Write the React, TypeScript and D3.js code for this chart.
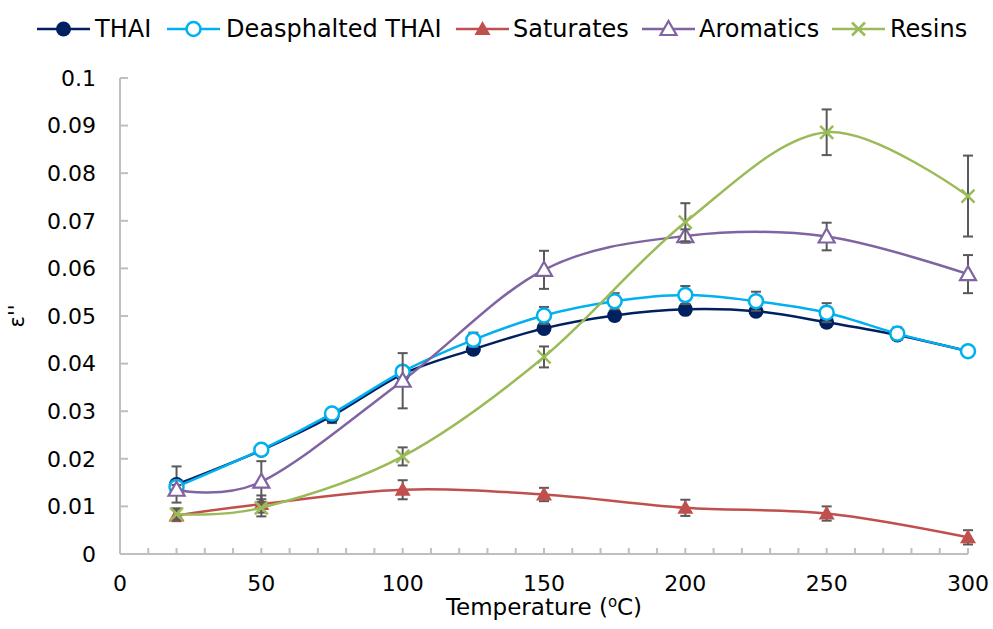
import React from "react";
import * as d3 from "d3";

const xThai = [20, 50, 75, 100, 125, 150, 175, 200, 225, 250, 275, 300];
const thai = [0.0146, 0.0218, 0.0290, 0.0378, 0.0430, 0.0474, 0.0501, 0.0514, 0.0510, 0.0487, 0.0460, 0.0426];
const thaiErr = [0.0038, 0.0010, 0.0015, 0.0010, 0.0010, 0.0010, 0.0010, 0.0010, 0.0010, 0.0010, 0.0010, 0.0005];
const deasph = [0.0141, 0.0219, 0.0295, 0.0383, 0.0450, 0.0501, 0.0531, 0.0544, 0.0531, 0.0507, 0.0463, 0.0426];
const deasphErr = [0.0010, 0.0010, 0.0008, 0.0010, 0.0015, 0.0018, 0.0017, 0.0019, 0.0020, 0.0020, 0.0013, 0.0005];

const xFrac = [20, 50, 100, 150, 200, 250, 300];
const saturates = [0.0081, 0.0105, 0.0135, 0.0125, 0.0097, 0.0085, 0.0035];
const saturatesErr = [0.0012, 0.0018, 0.0020, 0.0014, 0.0017, 0.0015, 0.0015];
const aromatics = [0.0135, 0.0152, 0.0364, 0.0597, 0.0668, 0.0667, 0.0588];
const aromaticsErr = [0.0010, 0.0043, 0.0058, 0.0040, 0.0014, 0.0029, 0.0040];
const resins = [0.0084, 0.0097, 0.0205, 0.0414, 0.0697, 0.0886, 0.0752];
const resinsErr = [0.0012, 0.0018, 0.0019, 0.0022, 0.0040, 0.0048, 0.0085];

const xTicks = [0, 50, 100, 150, 200, 250, 300];
const yTicks = [0, 0.01, 0.02, 0.03, 0.04, 0.05, 0.06, 0.07, 0.08, 0.09, 0.1];
const yTickLabels = ["0", "0.01", "0.02", "0.03", "0.04", "0.05", "0.06", "0.07", "0.08", "0.09", "0.1"];

const W = 993, H = 629;
const FONT = "Verdana, 'DejaVu Sans', sans-serif";
const ERR_COLOR = "#595959";

type Series = { name: string; xs: number[]; ys: number[]; err: number[]; color: string; marker: string };

const series: Series[] = [
  { name: "THAI", xs: xThai, ys: thai, err: thaiErr, color: "#002060", marker: "dot" },
  { name: "Deasphalted THAI", xs: xThai, ys: deasph, err: deasphErr, color: "#00b0f0", marker: "circle" },
  { name: "Saturates", xs: xFrac, ys: saturates, err: saturatesErr, color: "#c0504d", marker: "tri" },
  { name: "Aromatics", xs: xFrac, ys: aromatics, err: aromaticsErr, color: "#8064a2", marker: "otri" },
  { name: "Resins", xs: xFrac, ys: resins, err: resinsErr, color: "#9bbb59", marker: "x" },
];

function Marker({ type, color, cx, cy }: { type: string; color: string; cx: number; cy: number }) {
  if (type === "dot") return <circle cx={cx} cy={cy} r={7.5} fill={color} />;
  if (type === "circle") return <circle cx={cx} cy={cy} r={7} fill="#fff" stroke={color} strokeWidth={2.5} />;
  if (type === "tri" || type === "otri") {
    const s = 8;
    const p = `M${cx},${cy - s} L${cx + s},${cy + s * 0.75} L${cx - s},${cy + s * 0.75} Z`;
    return type === "tri" ? <path d={p} fill={color} /> : <path d={p} fill="#fff" stroke={color} strokeWidth={2.2} />;
  }
  const s = 6.5;
  return (
    <path d={`M${cx - s},${cy - s} L${cx + s},${cy + s} M${cx - s},${cy + s} L${cx + s},${cy - s}`} stroke={color} strokeWidth={2.5} fill="none" />
  );
}

export default function App() {
  const left = 120, right = 968, top = 78, bottom = 554;
  const x = d3.scaleLinear().domain([0, 300]).range([left, right]);
  const y = d3.scaleLinear().domain([0, 0.1]).range([bottom, top]);
  const minor = d3.range(0, 301, 10);
  const line = (s: Series) =>
    d3.line<number>().x((_, i) => x(s.xs[i])).y((v) => y(v)).curve(d3.curveCardinal.tension(0))(s.ys) || "";

  const legend = [
    { lx: 37, tx: 95 },
    { lx: 167, tx: 226 },
    { lx: 456, tx: 513 },
    { lx: 642, tx: 699 },
    { lx: 832, tx: 890 },
  ];

  return (
    <svg width={W} height={H} style={{ position: "absolute", left: 0, top: 0, background: "#fff" }} fontFamily={FONT}>
      <rect width={W} height={H} fill="#fff" />
      {/* axes */}
      <line x1={left} x2={left} y1={top} y2={bottom} stroke="#bfbfbf" strokeWidth={2} />
      <line x1={left} x2={right} y1={bottom} y2={bottom} stroke="#bfbfbf" strokeWidth={2} />
      {yTicks.map((t) => (
        <line key={"yt" + t} x1={left} x2={left + 8} y1={y(t)} y2={y(t)} stroke="#bfbfbf" strokeWidth={2} />
      ))}
      {minor.map((t) => (
        <line key={"xt" + t} x1={x(t)} x2={x(t)} y1={bottom} y2={bottom - 6} stroke="#bfbfbf" strokeWidth={2} />
      ))}
      {yTicks.map((t, i) => (
        <text key={"yl" + t} x={left - 24} y={y(t)} dy="0.35em" textAnchor="end" fontSize={22} fill="#000">
          {yTickLabels[i]}
        </text>
      ))}
      {xTicks.map((t) => (
        <text key={"xl" + t} x={x(t)} y={bottom + 29} dy="0.35em" textAnchor="middle" fontSize={22} fill="#000">
          {t}
        </text>
      ))}
      <text x={544} y={607} dy="0.35em" textAnchor="middle" fontSize={23} fill="#000">
        Temperature (<tspan fontSize={15} dy="-8">o</tspan><tspan dy="8">C)</tspan>
      </text>
      <text transform={`translate(17,316) rotate(-90)`} textAnchor="middle" dy="0.35em" fontSize={21} fill="#000">
        ε''
      </text>
      {/* series */}
      {series.map((s) => (
        <g key={s.name}>
          {s.ys.map((v, i) => {
            const cx = x(s.xs[i]);
            const e = s.err[i];
            return (
              <g key={i} stroke={ERR_COLOR} strokeWidth={2}>
                <line x1={cx} x2={cx} y1={y(v + e)} y2={y(v - e)} />
                <line x1={cx - 5} x2={cx + 5} y1={y(v + e)} y2={y(v + e)} />
                <line x1={cx - 5} x2={cx + 5} y1={y(v - e)} y2={y(v - e)} />
              </g>
            );
          })}
          <path d={line(s)} fill="none" stroke={s.color} strokeWidth={2.5} />
          {s.ys.map((v, i) => (
            <Marker key={i} type={s.marker} color={s.color} cx={x(s.xs[i])} cy={y(v)} />
          ))}
        </g>
      ))}
      {/* legend */}
      {series.map((s, i) => (
        <g key={"lg" + s.name}>
          <line x1={legend[i].lx} x2={legend[i].lx + 53} y1={29} y2={29} stroke={s.color} strokeWidth={2.5} />
          <Marker type={s.marker} color={s.color} cx={legend[i].lx + 26.5} cy={29} />
          <text x={legend[i].tx} y={29} dy="0.35em" fontSize={24} fill="#000">
            {s.name}
          </text>
        </g>
      ))}
    </svg>
  );
}
